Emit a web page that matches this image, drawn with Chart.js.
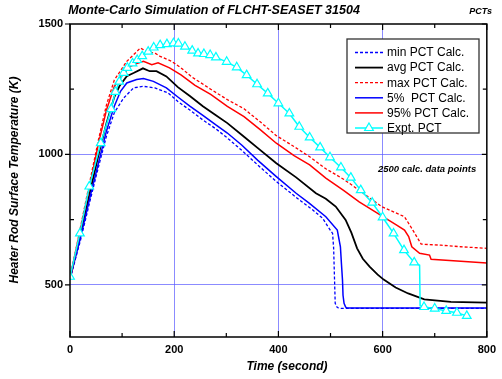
<!DOCTYPE html>
<html>
<head>
<meta charset="utf-8">
<script src="https://cdn.jsdelivr.net/npm/chart.js@4.4.1/dist/chart.umd.min.js"></script>
<style>
html,body{margin:0;padding:0;background:#fff;}
#wrap{width:502px;height:379px;}
</style>
</head>
<body>
<div id="wrap"><canvas id="c" width="502" height="379"></canvas></div>
<script>
// ---------- data ----------
const titleText = 'Monte-Carlo Simulation of FLCHT-SEASET 31504';
const cornerText = 'PCTs';
const xTitle = 'Time (second)';
const yTitle = 'Heater Rod Surface Temperature (K)';
const noteText = '2500 calc. data points';

const xTickVals = [0,100,200,300,400,500,600,700,800];
const yTickVals = [500,750,1000,1250,1500];
const xGridVals = [200,400,600];
const yGridVals = [500,1000];

const seriesNames = ['min PCT Calc.','avg PCT Calc.','max PCT Calc.','5%  PCT Calc.','95% PCT Calc.','Expt. PCT'];

const minTime = [0,20,40,55,70,85,103,122,141,163,188,207,230,255,280,302,330,360,396,420,440,466,485,497,504,506,507,508,509,513,520,800];
const minPct  = [522,670,835,955,1070,1160,1216,1255,1261,1255,1236,1203,1170,1132,1098,1063,1015,960,896,858,826,787,755,717,697,640,569,500,429,413,410,410];

const p5Time = [0,20,40,55,70,85,97,109,128,141,160,185,207,230,255,280,302,330,360,396,434,459,491,513,519,521,523,524,526,529,532,800];
const p5Pct  = [523,680,850,970,1090,1185,1242,1274,1287,1291,1280,1255,1220,1185,1150,1113,1082,1035,978,915,851,813,761,710,646,580,518,460,429,415,411,411];

const avgTime = [0,20,40,55,70,85,95,109,122,140,153,166,185,207,230,255,280,302,334,360,396,434,472,491,510,529,540,551,562,575,590,602,625,649,680,731,800];
const avgPct  = [525,695,870,1000,1120,1220,1262,1300,1312,1330,1319,1319,1299,1258,1224,1185,1150,1120,1068,1025,966,912,851,830,800,749,700,640,600,570,540,520,490,467,444,435,432];

const p95Time = [0,20,40,55,70,85,98,116,128,141,157,169,191,213,240,270,302,334,365,396,430,460,491,525,555,596,627,642,650,656,671,690,693,750,800];
const p95Pct  = [525,712,900,1045,1170,1260,1298,1338,1348,1357,1344,1351,1332,1305,1265,1230,1184,1145,1095,1043,995,960,909,862,818,767,729,710,685,646,621,614,598,590,584];

const maxTime = [0,20,40,55,70,85,100,109,126,135,147,164,173,195,213,233,270,302,334,365,396,430,460,491,525,554,598,642,658,674,712,750,800];
const maxPct  = [527,720,915,1060,1190,1285,1330,1357,1390,1408,1395,1387,1376,1357,1332,1298,1250,1210,1175,1125,1072,1030,991,945,905,864,800,761,710,656,652,646,640];

const expTime = [0,19,37,59,79,87,94.5,103,110,120,129,138.6,150,160.7,173,186,198.6,208,220.6,234.5,245.8,257,269,280,300.7,320,339,359,379.5,400,421,440,460,480,499,520,539,558,580,600,621,641,660.6,671,672,679.5,700,722,742.6,761.5];
const expPct  = [531,697,877,1043,1174,1240,1279,1313,1332,1349,1362,1377,1394,1410,1419,1423,1426,1425,1413,1398,1387,1385,1381,1372,1355,1334,1304,1269,1234,1196,1157,1106,1065,1027,989,950,911,863,815,759,697,633,586,575,420,415,409,400,393,381];
const expUnmarked = [671,672];

// ---------- styling ----------
const BLUE = '#0000ff', RED = '#ff0000', BLACK = '#000000', CYAN = '#00ffff';
const GRID = 'rgba(90,90,255,0.7)';
const FONT = '"Liberation Sans", Arial, Helvetica, sans-serif';
const DASH = [3,2];

function pts(t, v){ return t.map((x,i)=>({x:x, y:v[i]})); }

const datasets = [
  {label:seriesNames[5], data:pts(expTime,expPct), borderColor:CYAN, borderWidth:1.5,
   pointStyle:'triangle', pointRadius:expTime.map(t=>expUnmarked.includes(t)?0:5),
   pointBackgroundColor:'#ffffff', pointBorderColor:CYAN, pointBorderWidth:1.2, order:0},
  {label:seriesNames[4], data:pts(p95Time,p95Pct), borderColor:RED, borderWidth:1.5, pointRadius:0, order:1},
  {label:seriesNames[3], data:pts(p5Time,p5Pct), borderColor:BLUE, borderWidth:1.5, pointRadius:0, order:2},
  {label:seriesNames[2], data:pts(maxTime,maxPct), borderColor:RED, borderWidth:1.3, borderDash:DASH, pointRadius:0, order:3},
  {label:seriesNames[1], data:pts(avgTime,avgPct), borderColor:BLACK, borderWidth:1.8, pointRadius:0, order:4},
  {label:seriesNames[0], data:pts(minTime,minPct), borderColor:BLUE, borderWidth:1.3, borderDash:DASH, pointRadius:0, order:5}
];

const legendStyles = [
  {color:BLUE, dash:DASH, w:1.3},
  {color:BLACK, dash:[], w:1.8},
  {color:RED, dash:DASH, w:1.3},
  {color:BLUE, dash:[], w:1.5},
  {color:RED, dash:[], w:1.5},
  {color:CYAN, dash:[], w:1.5, marker:true}
];

const decor = {
  id:'decor',
  afterDatasetsDraw(chart){
    const ctx = chart.ctx, a = chart.chartArea;
    const xs = chart.scales.x, ys = chart.scales.y;
    ctx.save();
    // frame
    ctx.strokeStyle = '#000'; ctx.lineWidth = 1.5; ctx.setLineDash([]);
    ctx.strokeRect(a.left, a.top, a.right-a.left, a.bottom-a.top);
    // ticks
    ctx.lineWidth = 1.2;
    ctx.beginPath();
    xTickVals.forEach(v=>{
      const px = xs.getPixelForValue(v);
      const len = (v%200===0)?6:4;
      ctx.moveTo(px,a.bottom); ctx.lineTo(px,a.bottom-len);
      ctx.moveTo(px,a.top); ctx.lineTo(px,a.top+len);
    });
    yTickVals.forEach(v=>{
      const py = ys.getPixelForValue(v);
      const major = (v%500===0);
      if(major){ ctx.moveTo(a.left-5,py); ctx.lineTo(a.left,py); }
      else { ctx.moveTo(a.left,py); ctx.lineTo(a.left+4,py); }
      ctx.moveTo(a.right,py); ctx.lineTo(a.right-(major?5:4),py);
    });
    ctx.stroke();

    // legend box
    const L=347, T=39, R=479, B=133;
    ctx.fillStyle = '#fff';
    ctx.fillRect(L,T,R-L,B-T);
    ctx.strokeStyle = '#333'; ctx.lineWidth = 1.3;
    ctx.strokeRect(L,T,R-L,B-T);
    ctx.font = '12px '+FONT;
    ctx.textBaseline = 'middle'; ctx.textAlign = 'left';
    seriesNames.forEach((name,i)=>{
      const y = 52.5 + i*15.1;
      const s = legendStyles[i];
      ctx.strokeStyle = s.color; ctx.lineWidth = s.w; ctx.setLineDash(s.dash);
      ctx.beginPath(); ctx.moveTo(355,y); ctx.lineTo(383,y); ctx.stroke();
      ctx.setLineDash([]);
      if(s.marker){
        const cx=369, r=5;
        ctx.beginPath();
        ctx.moveTo(cx, y-r); ctx.lineTo(cx+r*0.87, y+r*0.5); ctx.lineTo(cx-r*0.87, y+r*0.5); ctx.closePath();
        ctx.fillStyle='#fff'; ctx.fill();
        ctx.strokeStyle=CYAN; ctx.lineWidth=1.2; ctx.stroke();
      }
      ctx.fillStyle = '#000';
      ctx.fillText(name, 387, y+0.5);
    });

    // texts
    ctx.fillStyle = '#000';
    ctx.font = 'italic bold 12.5px '+FONT;
    ctx.textAlign = 'center';
    ctx.fillText(titleText, 214, 11);
    ctx.font = 'italic bold 9px '+FONT;
    ctx.textAlign = 'right';
    ctx.fillText(cornerText, 492, 12);
    ctx.font = 'italic bold 9.5px '+FONT;
    ctx.textAlign = 'left';
    ctx.fillText(noteText, 378, 169);
    ctx.font = 'italic bold 12px '+FONT;
    ctx.textAlign = 'center';
    ctx.fillText(xTitle, 287, 367);
    ctx.save();
    ctx.translate(15, 180);
    ctx.rotate(-Math.PI/2);
    ctx.fillText(yTitle, 0, 0);
    ctx.restore();
    ctx.restore();
  }
};

new Chart(document.getElementById('c'), {
  type:'line',
  data:{datasets:datasets},
  options:{
    responsive:false, animation:false, devicePixelRatio:1,
    layout:{padding:{left:0, top:24, right:9, bottom:0}},
    plugins:{legend:{display:false}, title:{display:false}, tooltip:{enabled:false}},
    elements:{line:{tension:0}},
    scales:{
      x:{type:'linear', min:0, max:800,
        afterBuildTicks:s=>{ s.ticks = xTickVals.map(v=>({value:v})); },
        afterFit:s=>{ s.height = 42; },
        ticks:{callback:v=> (v%200===0)? String(v):'', color:'#000', font:{family:FONT, size:11, weight:'bold'}, padding:6, maxRotation:0, autoSkip:false},
        grid:{drawTicks:false, lineWidth:1, color:c=> (c.tick && xGridVals.includes(c.tick.value))? GRID:'rgba(0,0,0,0)'},
        border:{display:false}
      },
      y:{type:'linear', min:300, max:1500,
        afterBuildTicks:s=>{ s.ticks = yTickVals.map(v=>({value:v})); },
        afterFit:s=>{ s.width = 70; },
        ticks:{callback:v=> (v%500===0)? String(v):'', color:'#000', font:{family:FONT, size:11, weight:'bold'}, padding:7, autoSkip:false},
        grid:{drawTicks:false, lineWidth:1, color:c=> (c.tick && yGridVals.includes(c.tick.value))? GRID:'rgba(0,0,0,0)'},
        border:{display:false}
      }
    }
  },
  plugins:[decor]
});
</script>
</body>
</html>
